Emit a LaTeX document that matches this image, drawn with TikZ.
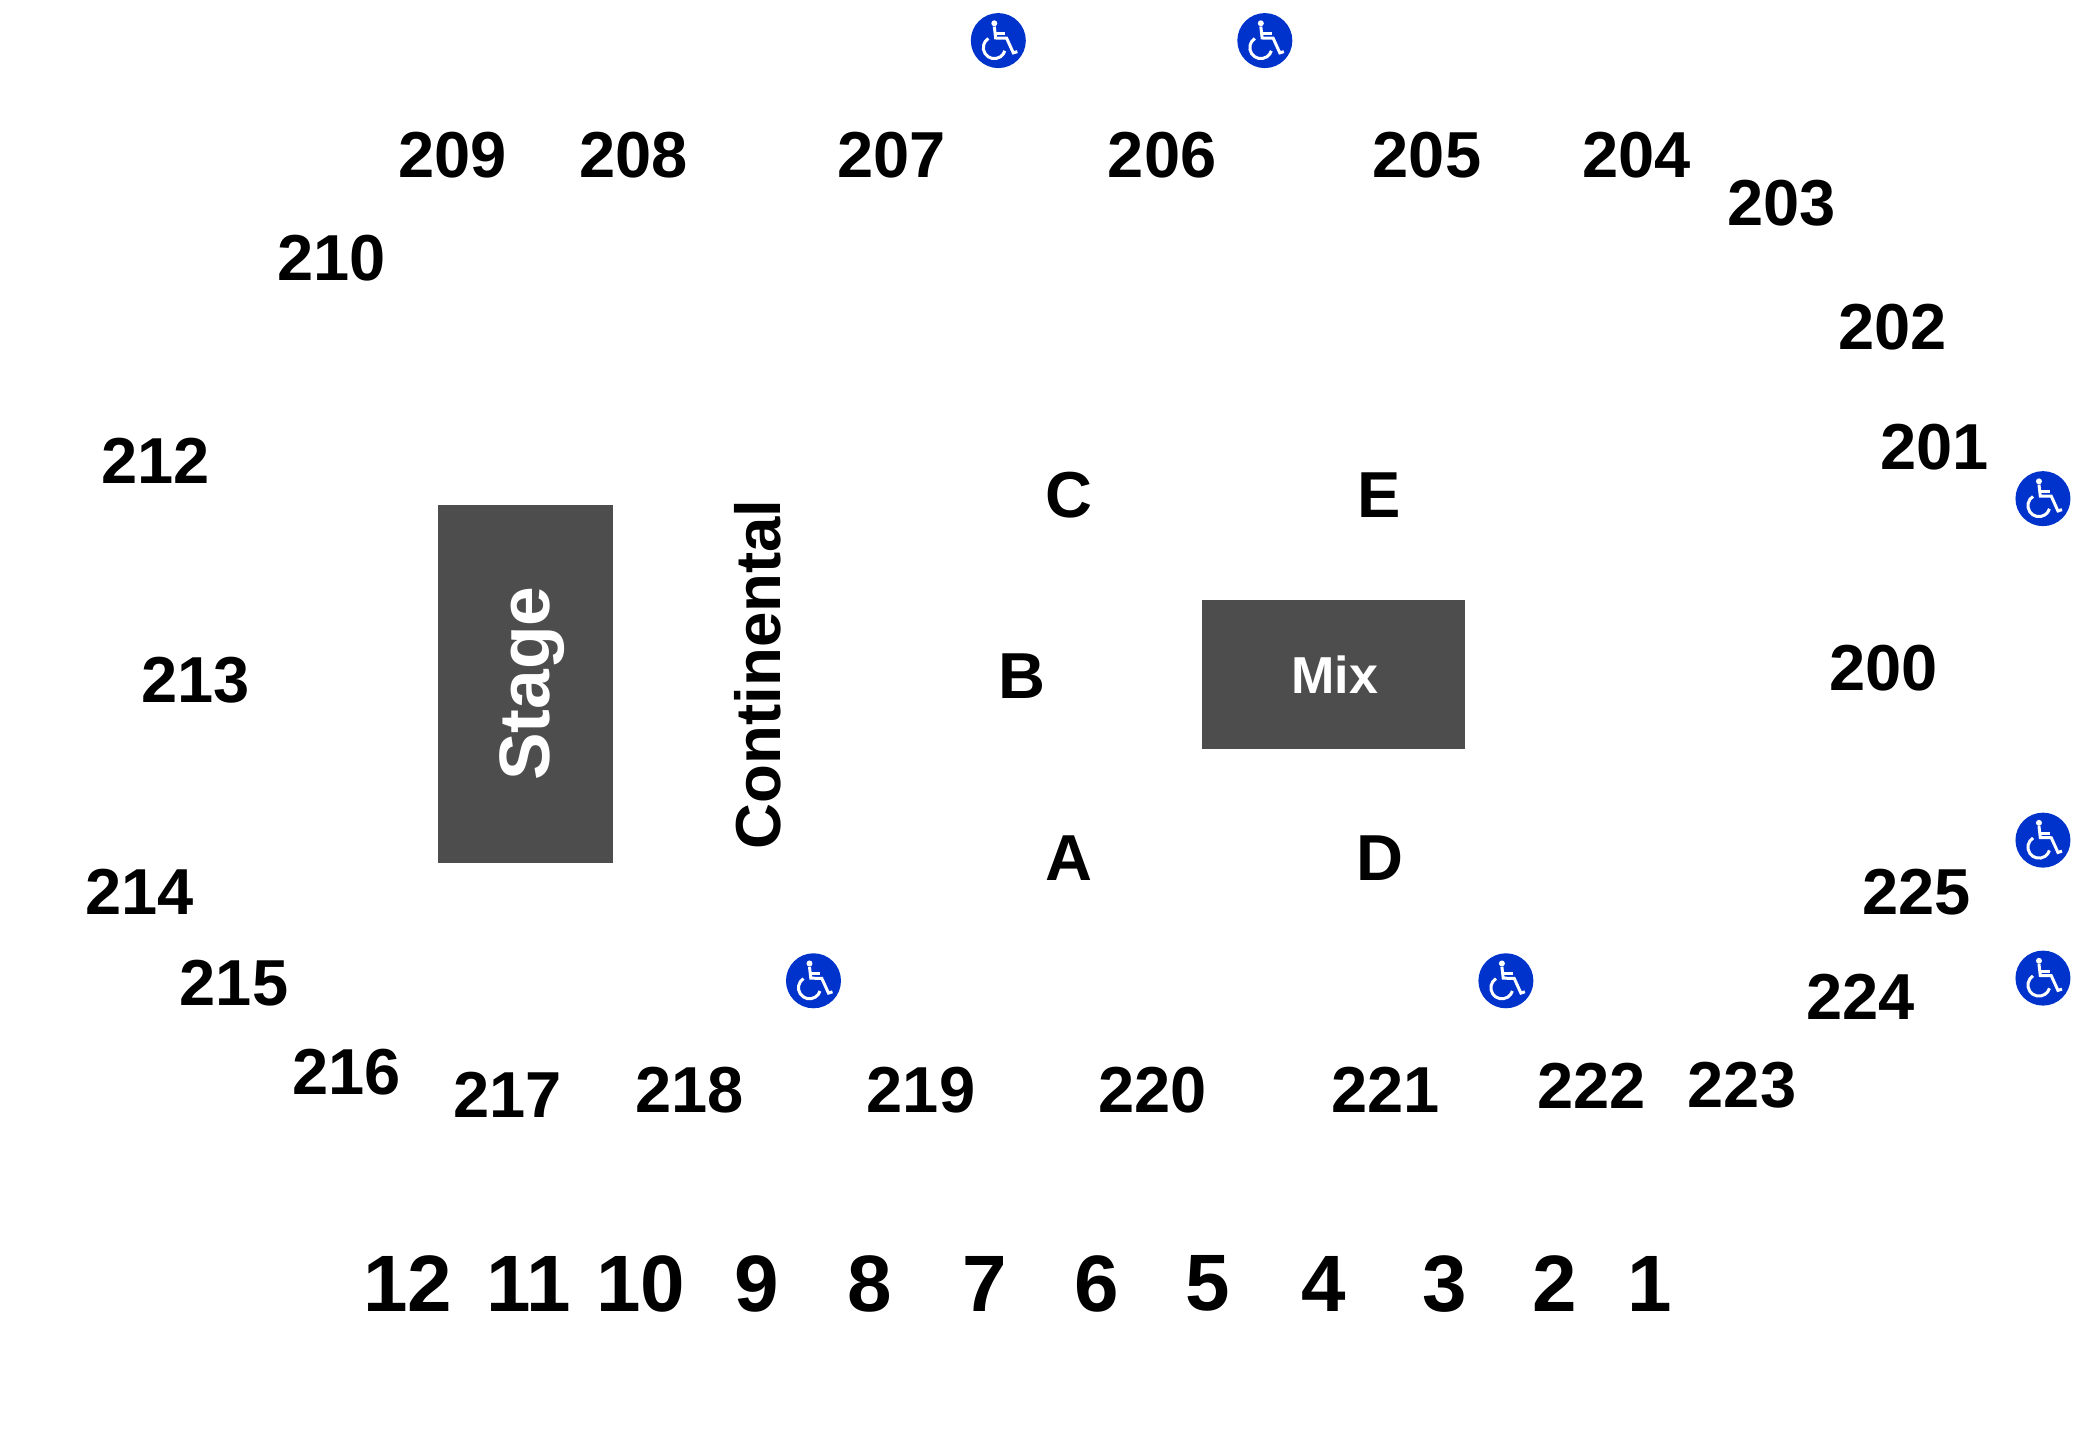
\documentclass[tikz,border=0pt]{standalone}
\usepackage{fontspec}
\setmainfont{Liberation Sans}
\definecolor{wcblue}{HTML}{0033CC}
\definecolor{blockgrey}{HTML}{4D4D4D}
\tikzset{
 sec/.style={inner sep=0pt,font=\fontsize{32.5}{32.5}\bfseries\selectfont,text=black},
 gate/.style={inner sep=0pt,font=\fontsize{40}{40}\bfseries\selectfont,text=black},
 block/.style={fill=blockgrey,draw=none,inner sep=0pt,outer sep=0pt},
 wc/.style={circle,fill=wcblue,draw=none,minimum size=27.5pt,inner sep=0pt},
 wheelicon/.pic={
  \begin{scope}[x=.5pt,y=-.5pt,white,line width=1.5pt]
   \fill (-4,-17.3) circle (3);
   \draw[line join=miter] (-4,-14) -- (-2.7,-2.6) -- (8.3,-2.4) -- (15,12.3) -- (19,11);
   \draw (-3.5,-7) -- (7,-7);
   \draw (-10,-2.2) arc[start angle=237,end angle=17,radius=11];
  \end{scope}
 }
}
\begin{document}
\begin{tikzpicture}[x=0.6696pt,y=-0.6696pt]
\useasboundingbox[fill=white] (0,0) rectangle (1568,1075.2);
\node[block,minimum width=87.7pt,minimum height=178.8pt] (stage) at (392.5,510.5) {};
\node[block,minimum width=131.5pt,minimum height=74.3pt] (mix) at (995.7,503.5) {};
\node[inner sep=0pt,rotate=90,text=white,font=\fontsize{35.7}{35.7}\bfseries\selectfont,anchor=base] (stagelabel) at (410.5,510.5) {Stage};
\node[inner sep=0pt,text=white,font=\fontsize{26}{26}\bfseries\selectfont] (mixlabel) at (996.5,504) {Mix};
\node[inner sep=0pt,rotate=90,font=\fontsize{31.8}{31.8}\bfseries\selectfont,anchor=base] (cont) at (583,503.5) {Continental};
\foreach \n/\x/\y in {209/337.7/116,208/473.2/116,207/665.7/116,206/867.7/116,205/1065.5/116,204/1222.2/116,203/1330/151.5,202/1413.2/244,201/1444.7/334,200/1406.3/499,210/247.7/193,212/116.3/344.3,213/146/508,214/104.3/666,215/174.7/734,216/259/800.7,217/379/817.7,218/515/814,219/687.7/814,220/860.5/814,221/1034.7/814,222/1188.5/811,223/1300.7/810,224/1389.2/744,225/1431/666}
  \node[sec] (s\n) at (\x,\y) {\n};
\foreach \n/\x/\y in {C/798/370,E/1030/370,B/763/505,A/798/641,D/1030/641}
  \node[sec] (row\n) at (\x,\y) {\n};
\foreach \n/\x/\y in {12/304.5/958.5,11/394.5/958.5,10/478.5/958.5,9/565/958.5,8/649.5/958.5,7/735/958.5,6/818.7/958.5,5/901.5/958.5,4/988.7/958.5,3/1078.5/958.5,2/1160.5/958.5,1/1231.5/958.5}
  \node[gate] (g\n) at (\x,\y) {\n};
\foreach \i/\x/\y in {1/745.4/30.3,2/944.4/30.3,3/1525.4/372.3,4/1525.4/627.3,5/1525.4/730.3,6/607.4/732.3,7/1124.4/732.3}{
  \node[wc] (w\i) at (\x,\y) {};
  \pic at (w\i) {wheelicon};
}
\end{tikzpicture}
\end{document}
